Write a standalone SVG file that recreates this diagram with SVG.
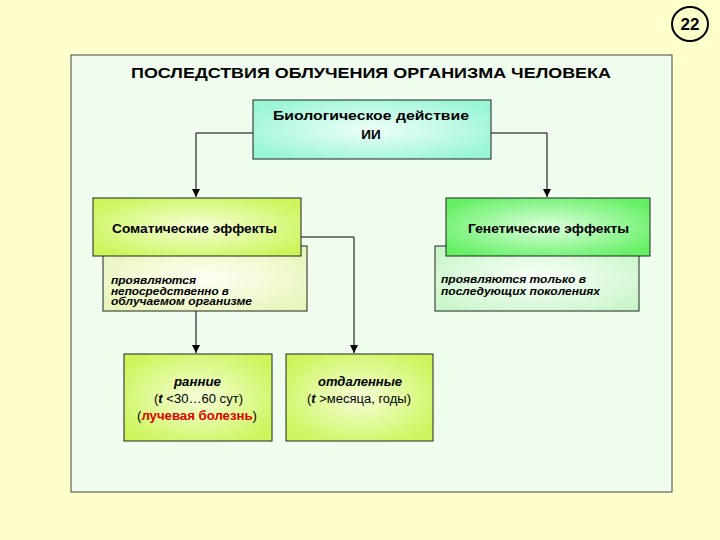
<svg xmlns="http://www.w3.org/2000/svg" width="720" height="540" viewBox="0 0 720 540">
<defs>
<style>
text{font-family:"Liberation Sans",Arial,sans-serif;fill:#000}
.box{stroke:#222;stroke-width:1}
.t{font-size:13.5px;font-weight:bold;text-anchor:middle}
.n{font-size:10.5px;font-weight:bold;font-style:italic}
.s{font-size:12.5px;text-anchor:middle}
.conn{fill:none;stroke:#000;stroke-width:1}
</style>
<radialGradient id="gBio" cx="50%" cy="50%" r="60%"><stop offset="0" stop-color="#EFFFF8"/><stop offset="1" stop-color="#99F5D6"/></radialGradient>
<radialGradient id="gYel" cx="50%" cy="50%" r="60%"><stop offset="0" stop-color="#F6FFD8"/><stop offset="1" stop-color="#CCF55C"/></radialGradient>
<radialGradient id="gGrn" cx="50%" cy="50%" r="60%"><stop offset="0" stop-color="#DDFFDD"/><stop offset="1" stop-color="#66F066"/></radialGradient>
<radialGradient id="gNoteY" cx="50%" cy="50%" r="65%"><stop offset="0" stop-color="#FFFFF4"/><stop offset="1" stop-color="#E6F5B8"/></radialGradient>
<radialGradient id="gNoteG" cx="50%" cy="50%" r="65%"><stop offset="0" stop-color="#FAFFFA"/><stop offset="1" stop-color="#C8F5C8"/></radialGradient>
<marker id="arr" viewBox="0 0 10 10" refX="10" refY="5" markerWidth="8" markerHeight="8" markerUnits="userSpaceOnUse" orient="auto"><path d="M0,0 L10,5 L0,10 z" fill="#000"/></marker>
</defs>
<rect x="0" y="0" width="720" height="540" fill="#FFFFCC"/>
<g id="panel">
<rect x="71" y="55" width="601" height="437" fill="#F0FCEE" stroke="#444" stroke-width="1"/>
<text x="131" y="78" textLength="480" lengthAdjust="spacingAndGlyphs" style="font-size:14.5px;font-weight:bold">ПОСЛЕДСТВИЯ ОБЛУЧЕНИЯ ОРГАНИЗМА ЧЕЛОВЕКА</text>
</g>
<g id="page-number">
<ellipse cx="690" cy="24" rx="18" ry="17" fill="#FFFFCC" stroke="#000" stroke-width="2"/>
<text x="690" y="30" style="font-size:17px;font-weight:bold;text-anchor:middle">22</text>
</g>
<g id="connectors">
<path class="conn" d="M253,133 H196 V197" marker-end="url(#arr)"/>
<path class="conn" d="M491,133 H547 V197" marker-end="url(#arr)"/>
<path class="conn" d="M301,237 H354 V353" marker-end="url(#arr)"/>
<path class="conn" d="M196,311 V353" marker-end="url(#arr)"/>
</g>
<g id="bio">
<rect class="box" x="253" y="100" width="238" height="59" fill="url(#gBio)"/>
<text class="t" x="371" y="120" textLength="196" lengthAdjust="spacingAndGlyphs">Биологическое действие</text>
<text class="t" x="371" y="139">ИИ</text>
</g>
<g id="somatic-note">
<rect class="box" x="103" y="246" width="204" height="65" fill="url(#gNoteY)"/>
<text class="n" x="111" y="284" textLength="85" lengthAdjust="spacingAndGlyphs">проявляются</text>
<text class="n" x="111" y="294.5" textLength="118" lengthAdjust="spacingAndGlyphs">непосредственно в</text>
<text class="n" x="111" y="305" textLength="141" lengthAdjust="spacingAndGlyphs">облучаемом организме</text>
</g>
<g id="somatic">
<rect class="box" x="93" y="198" width="208" height="58" fill="url(#gYel)"/>
<text class="t" x="194.5" y="233" textLength="165" lengthAdjust="spacingAndGlyphs" style="font-size:12.5px">Соматические эффекты</text>
</g>
<g id="genetic-note">
<rect class="box" x="435" y="246" width="204" height="65" fill="url(#gNoteG)"/>
<text class="n" x="441" y="283" textLength="145" lengthAdjust="spacingAndGlyphs">проявляются только в</text>
<text class="n" x="441" y="295" textLength="159" lengthAdjust="spacingAndGlyphs">последующих поколениях</text>
</g>
<g id="genetic">
<rect class="box" x="446" y="198" width="204" height="58" fill="url(#gGrn)"/>
<text class="t" x="548.5" y="233" textLength="161" lengthAdjust="spacingAndGlyphs" style="font-size:12.5px">Генетические эффекты</text>
</g>
<g id="early">
<rect class="box" x="124" y="354" width="148" height="87" fill="url(#gYel)"/>
<text class="s" x="197.5" y="386" textLength="47" lengthAdjust="spacingAndGlyphs" style="font-weight:bold;font-style:italic">ранние</text>
<text class="s" x="198.5" y="403" textLength="89" lengthAdjust="spacingAndGlyphs">(<tspan font-weight="bold" font-style="italic">t</tspan> &lt;30…60 сут)</text>
<text class="s" x="197" y="420" textLength="120" lengthAdjust="spacingAndGlyphs">(<tspan fill="#E00000" font-weight="bold">лучевая болезнь</tspan>)</text>
</g>
<g id="late">
<rect class="box" x="286" y="354" width="147" height="87" fill="url(#gYel)"/>
<text class="s" x="360" y="386" textLength="84" lengthAdjust="spacingAndGlyphs" style="font-weight:bold;font-style:italic">отдаленные</text>
<text class="s" x="359" y="403" textLength="104" lengthAdjust="spacingAndGlyphs">(<tspan font-weight="bold" font-style="italic">t</tspan> &gt;месяца, годы)</text>
</g>
</svg>
